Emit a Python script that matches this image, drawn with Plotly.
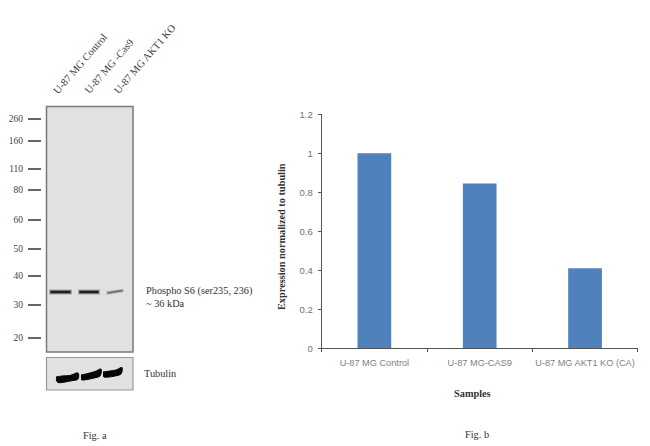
import plotly.graph_objects as go

W, H = 650, 446
SERIF = "Liberation Serif"
SANS = "Liberation Sans"

# Fig. b data
samples = ["U-87 MG Control", "U-87 MG-CAS9", "U-87 MG AKT1 KO (CA)"]
expression = [1.0, 0.845, 0.41]
y_ticks = [0, 0.2, 0.4, 0.6, 0.8, 1, 1.2]

# Fig. a ladder: marker labels and their migration position on the membrane
ladder_labels = ["260", "160", "110", "80", "60", "50", "40", "30", "20"]
ladder_positions = [119, 141, 169, 190, 220, 249, 276, 305, 338]

lanes = ["U-87 MG Control", "U-87 MG -Cas9", "U-87 MG AKT1 KO"]
lane_label_x = [50, 81, 111]

# Phospho S6 bands: lane x extent, migration position, darkness
band_x = [[49, 72], [78, 100], [106, 124]]
band_y = [[292, 292], [292, 292], [293, 290.5]]
band_strength = [1.0, 1.0, 0.4]

# Tubulin bands outlines
tub_x = [[56, 62, 70, 78, 78, 70, 62, 58, 56],
         [81, 88, 95, 101, 100, 94, 87, 82, 81],
         [103, 110, 116, 122, 121, 115, 109, 104, 103]]
tub_y = [[377, 376, 375.5, 373, 379, 381, 382.5, 382.5, 380],
         [375, 373.5, 371.5, 369, 376, 378, 379.5, 380, 379],
         [372, 371, 370, 367.5, 374, 376, 377, 377, 376]]

fig = go.Figure()

# Fig. b bars
fig.add_trace(go.Bar(x=samples, y=expression, marker=dict(color="#4f81bd", line=dict(width=0)),
                     width=0.32, xaxis="x", yaxis="y", showlegend=False))

# Fig. a bands
for xs, ys, s in zip(band_x, band_y, band_strength):
    for w, a, inset in [(5.5, 0.15, 0), (4.2, 0.25, 0.5), (3, 0.45, 1), (1.8, 0.75, 2)]:
        fig.add_trace(go.Scatter(x=[xs[0] + inset, xs[1] - inset], y=ys, mode="lines", xaxis="x2", yaxis="y2",
                                 showlegend=False, line=dict(color="#0a0a0a", width=w * (0.6 + 0.4 * s)),
                                 opacity=a * s, hoverinfo="skip"))
for xs, ys in zip(tub_x, tub_y):
    fig.add_trace(go.Scatter(x=xs, y=ys, mode="lines", fill="toself", fillcolor="#050505", xaxis="x2", yaxis="y2",
                             line=dict(color="#050505", width=1, shape="spline"), showlegend=False, hoverinfo="skip"))


def px(x):
    return x / W


def py(y):
    return 1 - y / H


shapes = [
    dict(type="rect", xref="paper", yref="paper", x0=px(46.5), x1=px(133), y0=py(106.5), y1=py(352),
         fillcolor="#e1e1e1", line=dict(color="#7a7a7a", width=1.5), layer="below"),
    dict(type="rect", xref="paper", yref="paper", x0=px(46.5), x1=px(133), y0=py(357.5), y1=py(390),
         fillcolor="#e1e1e1", line=dict(color="#9a9a9a", width=1.2), layer="below"),
]

annotations = []
for name, x in zip(lanes, lane_label_x):
    annotations.append(dict(text=name, xref="x2", yref="y2", x=x, y=97, xanchor="left", yanchor="bottom",
                            textangle=-49, showarrow=False, borderpad=0,
                            font=dict(family=SERIF, size=10.5, color="#3a3a3a")))


def note(text, x, y, size=10.3, bold=False, xanchor="left", color="#333333", angle=0):
    annotations.append(dict(text=f"<b>{text}</b>" if bold else text, xref="paper", yref="paper", x=px(x), y=py(y),
                            xanchor=xanchor, yanchor="middle", showarrow=False, textangle=angle, borderpad=0,
                            font=dict(family=SERIF, size=size, color=color)))


note("Phospho S6 (ser235, 236)", 145, 290.5)
note("~ 36 kDa", 145, 303.5)
note("Tubulin", 143, 373.5)
note("Fig. a", 95, 435, xanchor="center")
note("Fig. b", 477, 434, xanchor="center")
note("Samples", 473, 393.5, bold=True, xanchor="center")
note("Expression normalized to tubulin", 281, 237, bold=True, xanchor="center", angle=-90)

fig.update_layout(
    width=W, height=H, margin=dict(l=0, r=0, t=0, b=0), paper_bgcolor="white", plot_bgcolor="rgba(0,0,0,0)",
    showlegend=False, shapes=shapes, annotations=annotations, bargap=0.68,
    xaxis=dict(domain=[px(321.7), px(637.7)], anchor="y", type="category", tickson="boundaries", ticks="outside",
               ticklen=3, tickcolor="#555555", linecolor="#555555", linewidth=1, showgrid=False, zeroline=False,
               tickangle=0, tickfont=dict(family=SANS, size=9.2, color="#808080"), ticklabelstandoff=6,
               automargin=False),
    yaxis=dict(domain=[py(348.3), py(114.3)], anchor="x", range=[0, 1.2], tickvals=y_ticks,
               ticktext=["0", "0.2", "0.4", "0.6", "0.8", "1", "1.2"], ticks="outside", ticklen=3,
               tickcolor="#555555", linecolor="#555555", linewidth=1, showgrid=False, zeroline=False,
               tickfont=dict(family=SANS, size=9.5, color="#707070"), ticklabelstandoff=3, automargin=False),
    xaxis2=dict(domain=[0, 1], range=[0, W], anchor="y2", visible=False, automargin=False),
    yaxis2=dict(domain=[0, 1], range=[H, 0], anchor="free", side="left", position=px(41),
                tickvals=ladder_positions, ticktext=ladder_labels, ticks="outside", ticklen=13, tickwidth=1.6,
                tickcolor="#666666", showline=False, showgrid=False, zeroline=False, ticklabelstandoff=3,
                tickfont=dict(family=SERIF, size=9.5, color="#444444"), automargin=False),
)

fig.write_html("out.html", config={"displayModeBar": False}, post_script="document.body.style.margin='0';")
